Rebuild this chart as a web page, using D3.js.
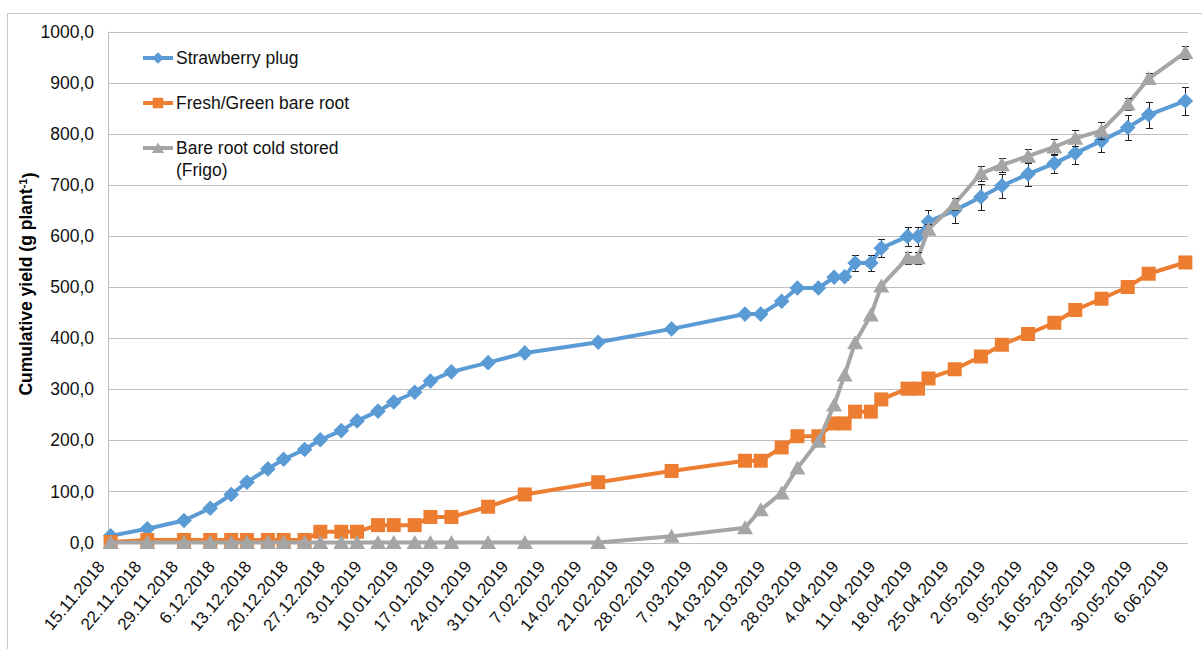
<!DOCTYPE html>
<meta charset="utf-8">

<style type="text/css">
  body {
    margin: 0;
    background: #fff;
    font-family: "Liberation Sans", Arial, sans-serif;
  }

  .grid line {
    stroke: #bfbfbf;
    stroke-width: 1px;
  }

  .tick-label {
    font-size: 17.5px;
    fill: #111;
  }

  .x-label {
    font-size: 17px;
    fill: #111;
  }

  .legend text {
    font-size: 17.5px;
    fill: #111;
  }
</style>

<body>
</body>

<script src="https://d3js.org/d3.v7.min.js"></script>
<script>
  // sampling dates (same for all three series)
  var dates = ["15.11.2018", "22.11.2018", "29.11.2018", "4.12.2018", "8.12.2018", "11.12.2018",
    "15.12.2018", "18.12.2018", "22.12.2018", "25.12.2018", "29.12.2018", "1.01.2019",
    "5.01.2019", "8.01.2019", "12.01.2019", "15.01.2019", "19.01.2019", "26.01.2019",
    "2.02.2019", "16.02.2019", "2.03.2019", "16.03.2019", "19.03.2019", "23.03.2019",
    "26.03.2019", "30.03.2019", "2.04.2019", "4.04.2019", "6.04.2019", "9.04.2019",
    "11.04.2019", "16.04.2019", "18.04.2019", "20.04.2019", "25.04.2019", "30.04.2019",
    "4.05.2019", "9.05.2019", "14.05.2019", "18.05.2019", "23.05.2019", "28.05.2019",
    "1.06.2019", "8.06.2019"
  ];

  var plugValues = [13, 27, 43, 67, 94, 118, 144, 163, 182, 201, 219, 238, 257, 275, 294, 316, 334, 352,
    371, 392, 418, 447, 447, 472, 498, 498, 519, 520, 547, 547, 576, 599, 599, 628, 650, 676,
    698, 721, 742, 762, 786, 812, 837, 864
  ];
  var plugErr = [1, 1, 2, 2, 2, 2, 3, 3, 3, 3, 3, 3, 3, 4, 4, 4, 4, 4, 4, 4, 5, 5, 5, 5, 5, 5,
    6, 6, 15, 15, 18, 19, 19, 23, 24, 25, 24, 23, 19, 21, 21, 24, 25, 28
  ];

  var freshValues = [1, 5, 5, 5, 5, 5, 5, 5, 5, 21, 21, 21, 34, 34, 34, 50, 50, 70, 94, 118, 140, 160,
    160, 186, 208, 208, 233, 233, 256, 256, 280, 301, 301, 321, 339, 364, 387, 408, 430, 455,
    477, 500, 526, 548
  ];

  var frigoValues = [0, 0, 0, 0, 0, 0, 0, 0, 0, 0, 0, 0, 0, 0, 0, 0, 0, 0, 0, 0, 12, 29, 64, 97, 146,
    198, 269, 328, 391, 445, 502, 557, 557, 613, 663, 722, 739, 756, 774, 791, 806, 858, 908, 959
  ];
  var frigoErr = [0, 0, 0, 0, 0, 0, 0, 0, 0, 0, 0, 0, 0, 0, 0, 0, 0, 0, 0, 0, 0, 0, 0, 0, 0, 0, 0, 0,
    0, 0, 0, 12, 12, 10, 12, 14, 14, 14, 15, 16, 16, 12, 10, 12
  ];

  var seriesNames = ["Strawberry plug", "Fresh/Green bare root", "Bare root cold stored"];
  var seriesColors = ["#5b9bd5", "#ed7d31", "#a5a5a5"];

  var tickLabels = ["15.11.2018", "22.11.2018", "29.11.2018", "6.12.2018", "13.12.2018", "20.12.2018",
    "27.12.2018", "3.01.2019", "10.01.2019", "17.01.2019", "24.01.2019", "31.01.2019",
    "7.02.2019", "14.02.2019", "21.02.2019", "28.02.2019", "7.03.2019", "14.03.2019",
    "21.03.2019", "28.03.2019", "4.04.2019", "11.04.2019", "18.04.2019", "25.04.2019",
    "2.05.2019", "9.05.2019", "16.05.2019", "23.05.2019", "30.05.2019", "6.06.2019"
  ];
  var yTicks = [0, 100, 200, 300, 400, 500, 600, 700, 800, 900, 1000];

  var width = 1202,
    height = 649,
    plot = {
      left: 108,
      right: 1188,
      top: 31.5,
      bottom: 542.5
    };

  var parse = d3.utcParse("%d.%m.%Y");
  var halfDay = 12 * 3600 * 1000;

  // date axis: each day is a band, points sit in the middle of their day
  var x = d3.scaleUtc()
    .domain([parse("15.11.2018"), parse("9.06.2019")])
    .range([plot.left, plot.right]);

  var y = d3.scaleLinear()
    .domain([0, 1000])
    .range([plot.bottom, plot.top]);

  var fmt = d3.formatLocale({
    decimal: ",",
    thousands: "",
    grouping: [3],
    currency: ["", ""]
  }).format(".1f");

  function xPos(s) {
    return x(new Date(parse(s).getTime() + halfDay));
  }

  var svg = d3.select("body")
    .append("svg")
    .attr("width", width)
    .attr("height", height);

  // outer chart frame (runs off the picture at right/bottom)
  svg.append("rect")
    .attr("x", 7.5)
    .attr("y", 13.5)
    .attr("width", 1210)
    .attr("height", 660)
    .attr("fill", "#fff")
    .attr("stroke", "#c8c8c8");

  var grid = svg.append("g").attr("class", "grid");
  grid.selectAll("line")
    .data(yTicks)
    .enter().append("line")
    .attr("x1", plot.left)
    .attr("x2", plot.right)
    .attr("y1", function(d) { return Math.round(y(d)) + 0.5; })
    .attr("y2", function(d) { return Math.round(y(d)) + 0.5; });

  grid.append("line") // y axis line
    .attr("x1", plot.left + 0.5)
    .attr("x2", plot.left + 0.5)
    .attr("y1", plot.top)
    .attr("y2", plot.bottom);

  // y tick labels
  svg.append("g").selectAll("text")
    .data(yTicks)
    .enter().append("text")
    .attr("class", "tick-label")
    .attr("x", 94)
    .attr("y", function(d) { return y(d); })
    .attr("dy", "0.35em")
    .attr("text-anchor", "end")
    .text(function(d) { return fmt(d); });

  // x tick labels, rotated
  svg.append("g").selectAll("text")
    .data(tickLabels)
    .enter().append("text")
    .attr("class", "x-label")
    .attr("text-anchor", "end")
    .attr("transform", function(d) {
      return "translate(" + (xPos(d) - 5) + "," + 567 + ") rotate(-50)";
    })
    .text(function(d) { return d; });

  // y axis title
  var title = svg.append("text")
    .attr("transform", "translate(32," + 284 + ") rotate(-90)")
    .attr("text-anchor", "middle")
    .style("font-size", "17.5px")
    .style("font-weight", "bold")
    .attr("fill", "#000");
  title.append("tspan").text("Cumulative yield (g plant");
  title.append("tspan").attr("dy", "-0.45em").style("font-size", "11.5px").text("-1");
  title.append("tspan").attr("dy", "0.45em").text(")");

  var markerPaths = [
    "M0,-7.8L7.8,0L0,7.8L-7.8,0Z",
    "M-7,-7H7V7H-7Z",
    "M0,-7.5L8,6.5L-8,6.5Z"
  ];

  var seriesValues = [plugValues, freshValues, frigoValues];
  var seriesErr = [plugErr, null, frigoErr];

  var line = d3.line()
    .x(function(d) { return d.x; })
    .y(function(d) { return d.y; });

  // error bars sit under the markers
  function errorBars(vals, errs) {
    var g = svg.append("g")
      .attr("stroke", "#222")
      .attr("stroke-width", 1);
    vals.forEach(function(v, j) {
      if (!errs[j]) return;
      var cx = Math.round(xPos(dates[j])) + 0.5;
      var y1 = Math.round(y(v - errs[j])) + 0.5,
        y2 = Math.round(y(v + errs[j])) + 0.5;
      g.append("line").attr("x1", cx).attr("x2", cx).attr("y1", y1).attr("y2", y2);
      g.append("line").attr("x1", cx - 3.5).attr("x2", cx + 3.5).attr("y1", y1).attr("y2", y1);
      g.append("line").attr("x1", cx - 3.5).attr("x2", cx + 3.5).attr("y1", y2).attr("y2", y2);
    });
  }

  seriesValues.forEach(function(vals, i) {
    var pts = vals.map(function(v, j) {
      return { x: xPos(dates[j]), y: y(v) };
    });
    var g = svg.append("g");
    g.append("path")
      .datum(pts)
      .attr("fill", "none")
      .attr("stroke", seriesColors[i])
      .attr("stroke-width", 4)
      .attr("stroke-linejoin", "round")
      .attr("d", line);
    if (seriesErr[i]) errorBars(vals, seriesErr[i]);
    svg.append("g").selectAll("path")
      .data(pts)
      .enter().append("path")
      .attr("fill", seriesColors[i])
      .attr("transform", function(d) { return "translate(" + d.x + "," + d.y + ")"; })
      .attr("d", markerPaths[i]);
  });

  // legend
  var legendY = [58, 103, 148];
  var legend = svg.append("g").attr("class", "legend");
  seriesNames.forEach(function(name, i) {
    var ly = legendY[i];
    legend.append("line")
      .attr("x1", 143)
      .attr("x2", 173)
      .attr("y1", ly)
      .attr("y2", ly)
      .attr("stroke", seriesColors[i])
      .attr("stroke-width", 4);
    legend.append("path")
      .attr("fill", seriesColors[i])
      .attr("transform", "translate(158," + ly + ") scale(0.75)")
      .attr("d", markerPaths[i]);
    legend.append("text")
      .attr("x", 176)
      .attr("y", ly + 6)
      .text(name);
  });
  legend.append("text")
    .attr("x", 176)
    .attr("y", legendY[2] + 28)
    .text("(Frigo)");
</script>
